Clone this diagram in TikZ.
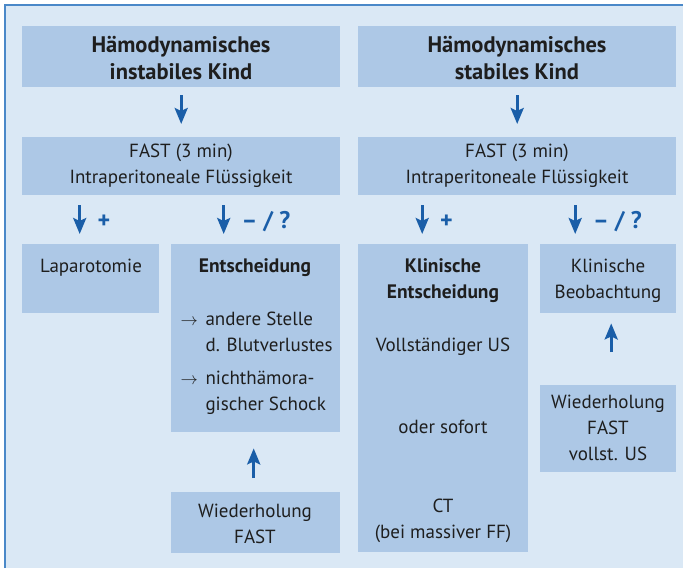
\documentclass[tikz,border=0pt]{standalone}
\usepackage{fontspec}
\setmainfont{PT Sans}
\usetikzlibrary{arrows.meta}
\definecolor{hinter}{HTML}{DAE8F5}
\definecolor{kastenblau}{HTML}{ADC8E6}
\definecolor{rahmenblau}{HTML}{4A88C8}
\definecolor{pfeilblau}{HTML}{1A5EA8}
\definecolor{schrift}{HTML}{1E1E1E}
\tikzset{
  kasten/.style={fill=kastenblau, anchor=north west, inner sep=0pt},
  txt/.style={text=schrift, font=\fontsize{19}{26}\selectfont, align=center},
  fett/.style={text=schrift, font=\fontsize{19.5}{26}\selectfont\bfseries, align=center},
  kopf/.style={text=schrift, font=\fontsize{22.5}{27}\selectfont\bfseries, align=center},
  pfeil/.style={draw=pfeilblau, line width=3pt, -{Stealth[length=16pt,width=13pt,inset=3pt]}},
  zeichen/.style={text=pfeilblau, font=\fontsize{24}{24}\selectfont\bfseries, anchor=west, yshift=-2pt}
}

\begin{document}
\begin{tikzpicture}[x=1pt, y=-1pt]
\useasboundingbox (0,0) rectangle (683,568);
\fill[hinter] (4,5) rectangle (683,568);
\draw[rahmenblau, line width=2pt] (4.5,568) -- (4.5,5) -- (683,5);

% Kaesten
\node[kasten, minimum width=318, minimum height=61] (instabil) at (22,26) {};
\node[kasten, minimum width=318, minimum height=61] (stabil) at (358,26) {};
\node[kasten, minimum width=318, minimum height=58] (fastA) at (22,137) {};
\node[kasten, minimum width=318, minimum height=58] (fastB) at (358,137) {};
\node[kasten, minimum width=137, minimum height=69] (lap) at (22,244) {};
\node[kasten, minimum width=169, minimum height=188] (entsch) at (171,244) {};
\node[kasten, minimum width=170, minimum height=308] (klin) at (358,244) {};
\node[kasten, minimum width=136, minimum height=69] (beob) at (540,244) {};
\node[kasten, minimum width=169, minimum height=61] (wiedA) at (171,492) {};
\node[kasten, minimum width=136, minimum height=87] (wiedB) at (540,385) {};

% Texte
\node[kopf] (t1) at (181,58) {Hämodynamisches\\instabiles Kind};
\node[kopf] (t2) at (517,58) {Hämodynamisches\\stabiles Kind};
\node[txt] (t3) at (181,166) {FAST (3 min)\\Intraperitoneale Flüssigkeit};
\node[txt] (t4) at (517,166) {FAST (3 min)\\Intraperitoneale Flüssigkeit};
\node[txt] (t5) at (91,268) {Laparotomie};
\node[fett] (t6) at (255,268) {Entscheidung};
\node[txt, align=left, anchor=north west] (t7) at (177,308)
  {\makebox[25pt][l]{$\rightarrow$}andere Stelle\\\hspace*{25pt}d. Blutverlustes\\[7pt]
   \makebox[25pt][l]{$\rightarrow$}nichthämora-\\\hspace*{25pt}gischer Schock};
\node[fett] (t8) at (443,281) {Klinische\\Entscheidung};
\node[txt] (t9) at (443,347) {Vollständiger US};
\node[txt] (t10) at (443,427) {oder sofort};
\node[txt] (t11) at (443,521) {CT\\(bei massiver FF)};
\node[txt] (t12) at (608,281) {Klinische\\Beobachtung};
\node[txt] (t13) at (608,428) {Wiederholung\\FAST\\vollst. US};
\node[txt] (t14) at (255,524) {Wiederholung\\FAST};

% Pfeile
\draw[pfeil, shorten <=8pt, shorten >=13pt] (instabil) -- (fastA);
\draw[pfeil, shorten <=8pt, shorten >=13pt] (stabil) -- (fastB);
\draw[pfeil, shorten <=10pt, shorten >=10pt] ([xshift=-11pt]lap.north |- fastA.south) -- ([xshift=-11pt]lap.north)
  node[zeichen, midway, xshift=13pt] {+};
\draw[pfeil, shorten <=10pt, shorten >=10pt] ([xshift=-32pt]entsch.north |- fastA.south) -- ([xshift=-32pt]entsch.north)
  node[zeichen, midway, xshift=13pt] {– / ?};
\draw[pfeil, shorten <=10pt, shorten >=10pt] ([xshift=-21pt]klin.north |- fastB.south) -- ([xshift=-21pt]klin.north)
  node[zeichen, midway, xshift=13pt] {+};
\draw[pfeil, shorten <=10pt, shorten >=10pt] ([xshift=-33pt]beob.north |- fastB.south) -- ([xshift=-33pt]beob.north)
  node[zeichen, midway, xshift=13pt] {– / ?};
\draw[pfeil, shorten <=14pt, shorten >=16pt] ([xshift=-2pt]wiedA.north) -- ([xshift=-2pt]entsch.south);
\draw[pfeil, shorten <=33pt, shorten >=10pt] ([xshift=3pt]wiedB.north) -- ([xshift=3pt]beob.south);
\end{tikzpicture}
\end{document}
